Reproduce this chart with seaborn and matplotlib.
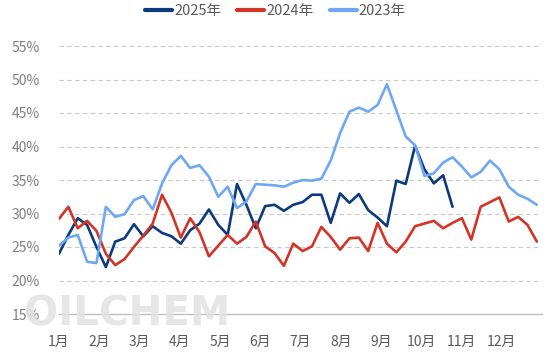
import numpy as np
import pandas as pd
import matplotlib
matplotlib.use("Agg")
import matplotlib.pyplot as plt
import seaborn as sns
from matplotlib.lines import Line2D

# ---- data (weekly values, %) ----
months = ["1月", "2月", "3月", "4月", "5月", "6月", "7月", "8月", "9月", "10月", "11月", "12月"]
series_names = ["2025年", "2024年", "2023年"]

y2025 = [24.0, 26.8, 29.3, 28.3, 25.0, 22.0, 25.8, 26.3, 28.4, 26.6, 28.1, 27.1, 26.6, 25.5,
         27.5, 28.5, 30.6, 28.3, 26.8, 34.4, 31.3, 27.8, 31.1, 31.3, 30.4, 31.3, 31.7, 32.8,
         32.8, 28.6, 33.0, 31.6, 32.9, 30.5, 29.4, 28.1, 34.9, 34.4, 40.1, 36.6, 34.5, 35.7, 31.0]
y2024 = [29.2, 31.0, 27.8, 28.9, 27.4, 24.0, 22.3, 23.2, 25.0, 26.7, 28.5, 32.8, 30.1, 26.4,
         29.3, 27.2, 23.6, 25.2, 26.8, 25.5, 26.5, 28.8, 25.1, 24.1, 22.2, 25.5, 24.4, 25.1,
         28.0, 26.5, 24.6, 26.3, 26.4, 24.4, 28.6, 25.5, 24.2, 25.8, 28.1, 28.5, 28.9, 27.8,
         28.6, 29.3, 26.1, 31.0, 31.7, 32.4, 28.8, 29.5, 28.3, 25.8]
y2023 = [25.2, 26.4, 26.8, 22.8, 22.6, 31.0, 29.5, 29.9, 32.0, 32.6, 30.6, 34.5, 37.2, 38.6,
         36.8, 37.2, 35.5, 32.5, 34.0, 30.8, 31.8, 34.4, 34.3, 34.2, 34.0, 34.6, 35.0, 34.9,
         35.2, 37.9, 42.0, 45.2, 45.8, 45.2, 46.2, 49.3, 45.4, 41.5, 40.2, 35.6, 36.0, 37.6,
         38.4, 37.0, 35.4, 36.2, 37.9, 36.6, 34.0, 32.8, 32.2, 31.3]
yticks = [15, 20, 25, 30, 35, 40, 45, 50, 55]

frames = []
for name, vals in zip(series_names, [y2025, y2024, y2023]):
    frames.append(pd.DataFrame({"week": np.arange(len(vals)), "value": vals, "series": name}))
df = pd.concat(frames, ignore_index=True)

palette = {"2025年": "#0B3A7E", "2024年": "#D33426", "2023年": "#6EA8F5"}

sns.set_theme(style="white")
plt.rcParams["font.family"] = ["Noto Sans CJK SC", "DejaVu Sans"]

fig = plt.figure(figsize=(5.51, 3.58), dpi=100)
ax = fig.add_axes([59 / 551, 1 - 314 / 358, (542 - 59) / 551, (314 - 46) / 358])

# watermark
fig.text(24 / 551, 1 - 315 / 358, "OILCHEM", fontsize=29, fontweight="bold",
         color="#e2e2e2", alpha=0.85, va="center", ha="left", zorder=0,
         family=["DejaVu Sans"])

sns.lineplot(data=df, x="week", y="value", hue="series", hue_order=series_names,
             palette=palette, linewidth=1.9, ax=ax, legend=False, zorder=3)

span = 483 / 9.37
ax.set_xlim(0, span)
ax.set_ylim(15, 55)
tick_pos = [span * k / 12 for k in range(13)]
ax.set_xticks(tick_pos)
ax.set_xticklabels(months + [""])
ax.set_yticks(yticks)
ax.set_yticklabels([f"{v}%" for v in yticks])

for v in yticks[1:]:
    ax.axhline(v, color="#c8c8c8", linewidth=0.8, linestyle=(0, (4, 3)), zorder=1)

for s in ["left", "right", "top"]:
    ax.spines[s].set_visible(False)
ax.spines["bottom"].set_color("#bfbfbf")
ax.spines["bottom"].set_linewidth(1.0)

ax.tick_params(axis="x", direction="in", length=5, width=0.8, color="#bfbfbf",
               pad=15, labelsize=10, labelcolor="#595959")
ax.tick_params(axis="y", length=0, pad=14, labelsize=10, labelcolor="#7f7f7f")
ax.set_xlabel("")
ax.set_ylabel("")
ax.grid(False)

handles = [Line2D([0], [0], color=palette[n], linewidth=3) for n in series_names]
fig.legend(handles, series_names, loc="upper center", bbox_to_anchor=(0.5, 1.025),
           ncol=3, frameon=False, fontsize=10.5, labelcolor="#595959",
           handlelength=1.85, handletextpad=0.15, columnspacing=1.1)

fig.savefig("out.png", dpi=100)
